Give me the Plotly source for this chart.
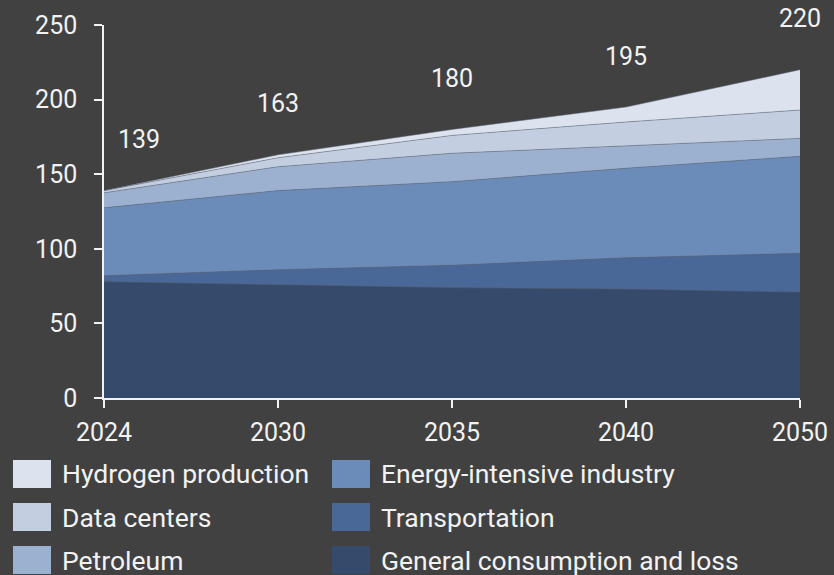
import plotly.graph_objects as go

years = ["2024", "2030", "2035", "2040", "2050"]
general = [78, 76, 74, 73, 71]
transport = [4, 10, 15, 21, 26]
industry = [45.5, 53, 56, 60, 65]
petroleum = [10, 16, 19, 15, 12]
datacenters = [1.5, 6, 12, 16, 19]
hydrogen = [0, 2, 4, 10, 27]
totals = [139, 163, 180, 195, 220]

series = [
    ("General consumption and loss", general, "#364B6C"),
    ("Transportation", transport, "#4A6897"),
    ("Energy-intensive industry", industry, "#6B8BB8"),
    ("Petroleum", petroleum, "#9CB1D0"),
    ("Data centers", datacenters, "#C3CEE0"),
    ("Hydrogen production", hydrogen, "#DCE3EE"),
]

W, H = 834, 575
ML, MR, MT, MB = 104, 34, 25, 177
PW, PH = W - ML - MR, H - MT - MB
FONT = "Roboto"
TXT = "#F2F2F2"
BG = "#414141"

fig = go.Figure()
for name, vals, col in series:
    fig.add_trace(go.Scatter(
        x=years, y=vals, name=name, mode="lines", stackgroup="one",
        fillcolor=col, line=dict(width=0.8, color="rgba(90,100,120,0.6)"),
        showlegend=False, hoverinfo="x+y+name",
    ))

annotations = []
for i, t in enumerate(totals):
    annotations.append(dict(
        x=i, y=t, xref="x", yref="y", text=str(t), showarrow=False,
        yshift=51, xshift=35 if i == 0 else 0,
        font=dict(family=FONT, size=25, color=TXT),
    ))

def px2paper(px, py):
    return (px - ML) / PW, (H - MB - py) / PH

# manual legend: two columns, three rows
legend_cols = [
    ["Hydrogen production", "Data centers", "Petroleum"],
    ["Energy-intensive industry", "Transportation", "General consumption and loss"],
]
colors = {n: c for n, _, c in series}
col_x = [13, 332]
row_y = [474, 517, 560]
shapes = []
for ci, names in enumerate(legend_cols):
    for ri, n in enumerate(names):
        x0, y0 = px2paper(col_x[ci], row_y[ri] - 14)
        x1, y1 = px2paper(col_x[ci] + 38, row_y[ri] + 14)
        shapes.append(dict(type="rect", xref="paper", yref="paper",
                           x0=x0, x1=x1, y0=y1, y1=y0,
                           fillcolor=colors[n], line=dict(width=0)))
        tx, ty = px2paper(col_x[ci] + 47, row_y[ri])
        annotations.append(dict(x=tx, y=ty, xref="paper", yref="paper",
                                text=n, showarrow=False, xanchor="left",
                                yanchor="middle",
                                font=dict(family=FONT, size=26.5, color=TXT)))

fig.update_layout(
    width=W, height=H,
    margin=dict(l=ML, r=MR, t=MT, b=MB, autoexpand=False),
    paper_bgcolor=BG, plot_bgcolor=BG,
    font=dict(family=FONT, size=25, color=TXT),
    showlegend=False,
    annotations=annotations,
    shapes=shapes,
    xaxis=dict(type="category", range=[0, 4], showgrid=False, zeroline=False,
               automargin=False,
               showline=True, linecolor="#F2F2F2", linewidth=1.5,
               ticks="outside", ticklen=8, tickwidth=1.5, tickcolor="#F2F2F2",
               ticklabelstandoff=3,
               tickfont=dict(family=FONT, size=25, color=TXT)),
    yaxis=dict(range=[0, 250], dtick=50, showgrid=False, zeroline=False,
               automargin=False,
               showline=True, linecolor="#F2F2F2", linewidth=1.5,
               ticks="outside", ticklen=8, tickwidth=1.5, tickcolor="#F2F2F2",
               ticklabelstandoff=12,
               tickfont=dict(family=FONT, size=25, color=TXT)),
)

fig.write_html("out.html", config={"displayModeBar": False},
               post_script="document.body.style.margin='0';document.body.style.overflow='hidden';")
